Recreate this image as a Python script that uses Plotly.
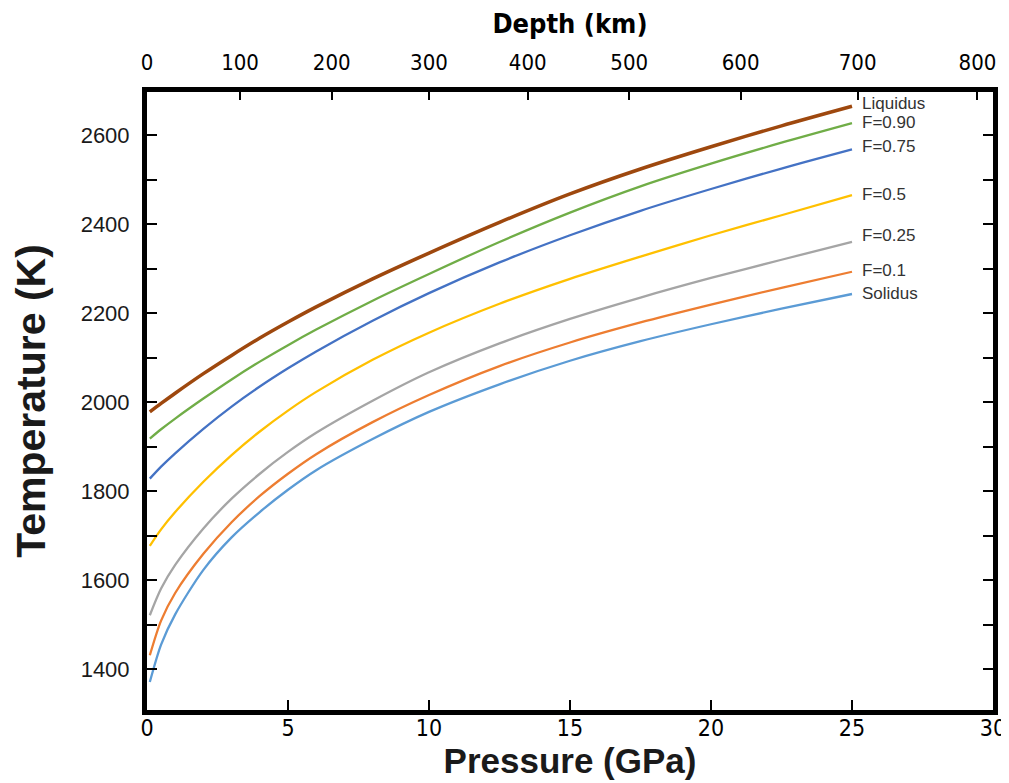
import plotly.graph_objects as go

# Pressure grid (GPa)
pressure = [0.1, 0.5, 1, 2, 3, 4, 5, 6, 8, 10, 12.5, 15, 17.5, 20, 22.5, 25]

# Temperatures (K)
liquidus = [1978, 1997, 2020, 2064, 2105, 2144, 2180, 2214, 2277, 2335, 2404, 2468, 2524, 2574, 2621, 2665]
f_090    = [1918, 1939, 1963, 2008, 2051, 2091, 2128, 2163, 2228, 2288, 2360, 2426, 2485, 2536, 2583, 2627]
f_075    = [1828, 1855, 1885, 1940, 1990, 2035, 2076, 2114, 2183, 2245, 2314, 2375, 2430, 2479, 2525, 2568]
f_050    = [1677, 1714, 1753, 1821, 1881, 1934, 1981, 2023, 2095, 2156, 2221, 2277, 2327, 2375, 2420, 2465]
f_025    = [1521, 1581, 1634, 1716, 1783, 1839, 1888, 1931, 2003, 2067, 2132, 2187, 2235, 2279, 2320, 2360]
f_010    = [1431, 1509, 1571, 1659, 1730, 1789, 1839, 1883, 1955, 2016, 2081, 2134, 2179, 2219, 2257, 2293]
solidus  = [1371, 1455, 1523, 1623, 1696, 1753, 1803, 1847, 1917, 1978, 2040, 2093, 2137, 2175, 2210, 2243]

series_names  = ["Liquidus", "F=0.90", "F=0.75", "F=0.5", "F=0.25", "F=0.1", "Solidus"]
series_values = [liquidus, f_090, f_075, f_050, f_025, f_010, solidus]
series_colors = ["#9E480E", "#70AD47", "#4472C4", "#FFC000", "#A5A5A5", "#ED7D31", "#5B9BD5"]
series_widths = [3.5, 2.3, 2.3, 2.3, 2.3, 2.3, 2.3]
label_yshift  = [3, 1, 3, 1, 6, 1, 1]

# Top axis: depth labels and their pressure positions
depth_labels = ["0", "100", "200", "300", "400", "500", "600", "700", "800"]
depth_at_pressure = [0, 3.3, 6.55, 10.0, 13.5, 17.1, 21.05, 25.2, 29.45]

fig = go.Figure()
for name, vals, col, w in zip(series_names, series_values, series_colors, series_widths):
    fig.add_trace(go.Scatter(x=pressure, y=vals, mode="lines", name=name,
                             line=dict(color=col, width=w, shape="spline", smoothing=0.8),
                             showlegend=False))

# dummy trace so the top axis is drawn
fig.add_trace(go.Scatter(x=[0, 30], y=[None, None], xaxis="x2", mode="lines",
                         showlegend=False, hoverinfo="skip"))

for name, vals, dy in zip(series_names, series_values, label_yshift):
    fig.add_annotation(x=pressure[-1], y=vals[-1], text=name, showarrow=False,
                       xanchor="left", yanchor="middle", xshift=8, yshift=dy,
                       font=dict(family="Liberation Sans, Arial, sans-serif", size=17, color="#333333"))

narrow = "Liberation Sans Narrow, DejaVu Sans Condensed, Liberation Sans, sans-serif"
arial = "Liberation Sans, Arial, sans-serif"

# the page body adds an 8px offset, so margins are shifted to compensate
fig.update_layout(
    width=1009, height=783,
    margin=dict(l=139, r=24, t=84, b=81),
    paper_bgcolor="white", plot_bgcolor="white",
    xaxis=dict(range=[0, 30], dtick=5, showline=True, linewidth=5, linecolor="black",
               mirror=True, ticks="inside", ticklen=10, tickwidth=1.5, tickcolor="black",
               showgrid=False, zeroline=False, automargin=False,
               ticklabelstandoff=-7,
               tickfont=dict(family=narrow, size=23, color="black"),
               title=dict(text="<b>Pressure (GPa)</b>", standoff=3,
                          font=dict(family=arial, size=35, color="#1a1a1a"))),
    xaxis2=dict(range=[0, 30], overlaying="x", side="top", tickmode="array",
                tickvals=depth_at_pressure, ticktext=depth_labels,
                ticks="inside", ticklen=8, tickwidth=1.5, tickcolor="black",
                showline=False, showgrid=False, zeroline=False, automargin=False,
                ticklabelstandoff=17,
                tickfont=dict(family=narrow, size=22, color="black"),
                title=dict(text="<b>Depth (km)</b>", standoff=14,
                           font=dict(family=narrow, size=27, color="black"))),
    yaxis=dict(range=[1308, 2697], tick0=1400, dtick=200, showline=True, linewidth=5,
               linecolor="black", mirror="allticks", ticks="inside", ticklen=10,
               tickwidth=1.5, tickcolor="black", showgrid=False, zeroline=False,
               automargin=False,
               minor=dict(dtick=100, tick0=1400, ticks="inside", ticklen=10, tickwidth=1.5,
                          tickcolor="black", showgrid=False),
               tickfont=dict(family=arial, size=22, color="#1a1a1a"),
               ticklabelstandoff=8,
               title=dict(text="<b>Temperature (K)</b>", standoff=38,
                          font=dict(family=arial, size=41, color="#1a1a1a"))),
)

fig.write_html("out.html")
